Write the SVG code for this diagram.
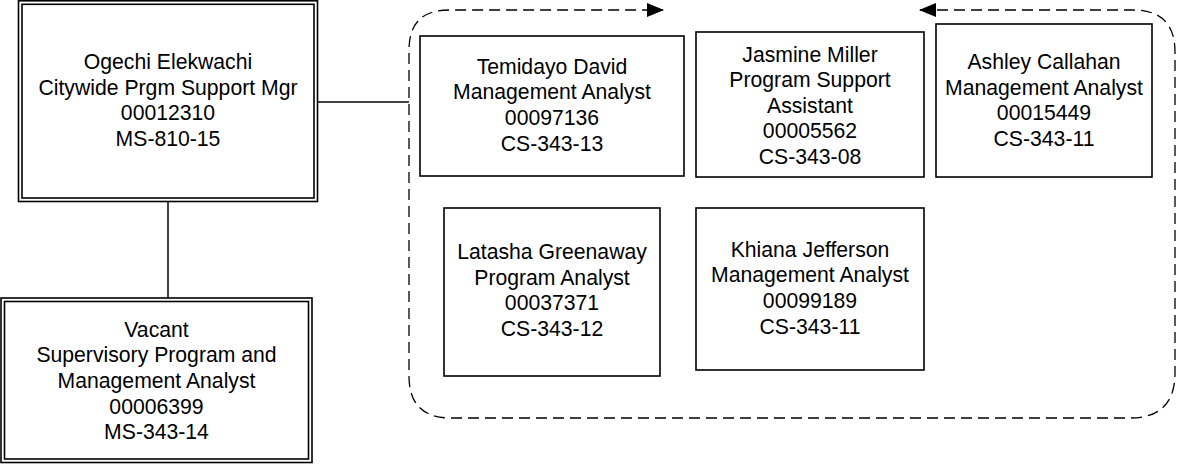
<svg xmlns="http://www.w3.org/2000/svg" width="1177" height="464" viewBox="0 0 1177 464">
<defs>
<style>
.box{fill:#fff;stroke:#000;stroke-width:1.6}
.dbl{fill:none;stroke:#000;stroke-width:1.6}
.conn{fill:none;stroke:#000;stroke-width:1.5}
.dash{fill:none;stroke:#000;stroke-width:1.3;stroke-dasharray:11 6}
text{font-family:"Liberation Sans",Arial,sans-serif;font-size:21.2px;fill:#000;text-anchor:middle}
</style>
<marker id="ah" viewBox="0 0 17 14" refX="16" refY="7" markerWidth="17" markerHeight="14" markerUnits="userSpaceOnUse" orient="auto-start-reverse">
<path d="M0,0 L17,7 L0,14 Z" fill="#000"/>
</marker>
</defs>
<rect width="1177" height="464" fill="#fff"/>
<g id="connectors">
<line class="conn" x1="318" y1="102" x2="409" y2="102"/>
<line class="conn" x1="168" y1="202" x2="168" y2="298"/>
<path class="dash" d="M920,10 L1133,10 Q1175,10 1175,52 L1175,373 Q1175,418 1130,418 L451,418 Q409,418 409,376 L409,50 Q409,10 449,10 L663,10" marker-start="url(#ah)" marker-end="url(#ah)"/>
</g>
<g id="ogechi">
<rect class="dbl" x="18.5" y="0.8" width="299" height="200.7"/>
<rect class="dbl" x="22" y="4.3" width="292" height="193.7"/>
<text x="168" y="69">Ogechi Elekwachi</text>
<text x="168" y="94.6">Citywide Prgm Support Mgr</text>
<text x="168" y="120.2">00012310</text>
<text x="168" y="145.8">MS-810-15</text>
</g>
<g id="vacant">
<rect class="dbl" x="1" y="298" width="311" height="164.5"/>
<rect class="dbl" x="4.5" y="301.5" width="304" height="157.5"/>
<text x="156.5" y="336.7">Vacant</text>
<text x="156.5" y="362.3">Supervisory Program and</text>
<text x="156.5" y="387.9">Management Analyst</text>
<text x="156.5" y="413.5">00006399</text>
<text x="156.5" y="439.1">MS-343-14</text>
</g>
<g id="temidayo">
<rect class="box" x="420" y="36" width="264" height="140"/>
<text x="552" y="73.7">Temidayo David</text>
<text x="552" y="99.3">Management Analyst</text>
<text x="552" y="124.9">00097136</text>
<text x="552" y="150.5">CS-343-13</text>
</g>
<g id="jasmine">
<rect class="box" x="696" y="32" width="228" height="145"/>
<text x="810" y="61.5">Jasmine Miller</text>
<text x="810" y="87.1">Program Support</text>
<text x="810" y="112.7">Assistant</text>
<text x="810" y="138.3">00005562</text>
<text x="810" y="163.9">CS-343-08</text>
</g>
<g id="ashley">
<rect class="box" x="936" y="24" width="216" height="153"/>
<text x="1044" y="69">Ashley Callahan</text>
<text x="1044" y="94.6">Management Analyst</text>
<text x="1044" y="120.2">00015449</text>
<text x="1044" y="145.8">CS-343-11</text>
</g>
<g id="latasha">
<rect class="box" x="444" y="208" width="216" height="168"/>
<text x="552" y="259">Latasha Greenaway</text>
<text x="552" y="284.6">Program Analyst</text>
<text x="552" y="310.2">00037371</text>
<text x="552" y="335.8">CS-343-12</text>
</g>
<g id="khiana">
<rect class="box" x="696" y="208" width="228" height="162"/>
<text x="810" y="256.7">Khiana Jefferson</text>
<text x="810" y="282.3">Management Analyst</text>
<text x="810" y="307.9">00099189</text>
<text x="810" y="333.5">CS-343-11</text>
</g>
</svg>
